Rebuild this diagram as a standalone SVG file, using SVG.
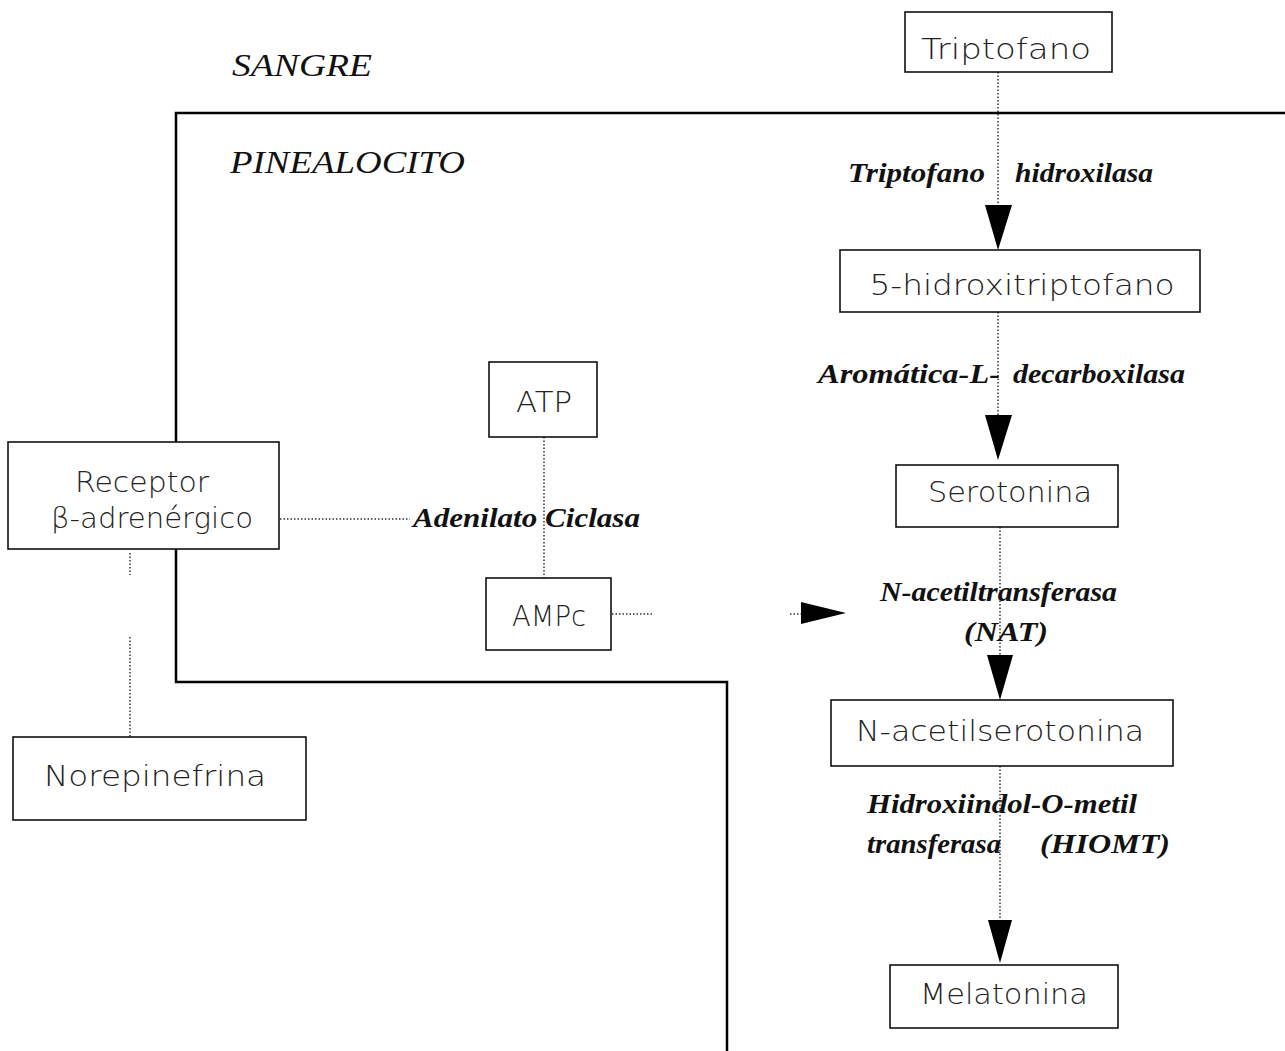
<svg xmlns="http://www.w3.org/2000/svg" width="1285" height="1051" viewBox="0 0 1285 1051">
<style>
.box{fill:#fff;stroke:#111;stroke-width:1.6}
.nt{font-family:"DejaVu Sans","Liberation Sans",sans-serif;font-size:28px;fill:#222;text-anchor:middle;font-weight:300}
.lb{font-family:"Liberation Serif",serif;font-size:28px;font-style:italic;font-weight:bold;fill:#111}
.rg{font-family:"Liberation Serif",serif;font-size:32px;font-style:italic;fill:#111}
.dot{stroke:#333;stroke-width:1.5;stroke-dasharray:1.5 2;fill:none}
.mem{stroke:#000;stroke-width:2.5;fill:none}
</style>
<rect width="1285" height="1051" fill="#fff"/>
<g id="membrane">
<path class="mem" d="M1285,113 H176 V682 H727 V1051"/>
</g>
<text class="rg" x="232" y="76" textLength="140" lengthAdjust="spacingAndGlyphs">SANGRE</text>
<text class="rg" x="230" y="173" textLength="235" lengthAdjust="spacingAndGlyphs">PINEALOCITO</text>
<g id="connectors">
<line class="dot" x1="998" y1="72" x2="998" y2="206"/>
<path d="M985,205 L1012,205 L998,250 Z" fill="#000"/>
<line class="dot" x1="998" y1="312" x2="998" y2="416"/>
<path d="M985,415 L1012,415 L998,460 Z" fill="#000"/>
<line class="dot" x1="1000" y1="527" x2="1000" y2="656"/>
<path d="M987,655 L1013,655 L1000,700 Z" fill="#000"/>
<line class="dot" x1="1000" y1="766" x2="1000" y2="921"/>
<path d="M988,920 L1012,920 L1000,963 Z" fill="#000"/>
<line class="dot" x1="544" y1="437" x2="544" y2="578"/>
<line class="dot" x1="280" y1="519" x2="410" y2="519"/>
<line class="dot" x1="612" y1="614" x2="652" y2="614"/>
<line class="dot" x1="790" y1="614" x2="802" y2="614"/>
<path d="M801,602 L846,613 L801,624 Z" fill="#000"/>
<line class="dot" x1="130" y1="553" x2="130" y2="575"/>
<line class="dot" x1="130" y1="637" x2="130" y2="737"/>
</g>
<g id="triptofano">
<rect class="box" x="905" y="12" width="207" height="60"/>
<text class="nt" x="1006" y="59" textLength="170" lengthAdjust="spacingAndGlyphs">Triptofano</text>
</g>
<g id="hidroxitriptofano">
<rect class="box" x="840" y="250" width="360" height="62"/>
<text class="nt" x="1022" y="295" textLength="305" lengthAdjust="spacingAndGlyphs">5-hidroxitriptofano</text>
</g>
<g id="serotonina">
<rect class="box" x="896" y="465" width="222" height="62"/>
<text class="nt" x="1010" y="502" textLength="164" lengthAdjust="spacingAndGlyphs">Serotonina</text>
</g>
<g id="nacetilserotonina">
<rect class="box" x="831" y="700" width="342" height="66"/>
<text class="nt" x="1000" y="741" textLength="288" lengthAdjust="spacingAndGlyphs">N-acetilserotonina</text>
</g>
<g id="melatonina">
<rect class="box" x="890" y="965" width="228" height="63"/>
<text class="nt" x="1004" y="1004" textLength="168" lengthAdjust="spacingAndGlyphs">Melatonina</text>
</g>
<g id="atp">
<rect class="box" x="489" y="362" width="108" height="75"/>
<text class="nt" x="544" y="412" textLength="56" lengthAdjust="spacingAndGlyphs">ATP</text>
</g>
<g id="ampc">
<rect class="box" x="486" y="578" width="125" height="72"/>
<text class="nt" x="549" y="626" textLength="74" lengthAdjust="spacingAndGlyphs">AMPc</text>
</g>
<g id="receptor">
<rect class="box" x="8" y="442" width="271" height="107"/>
<text class="nt" x="142" y="492" textLength="134" lengthAdjust="spacingAndGlyphs">Receptor</text>
<text class="nt" x="152" y="528" textLength="202" lengthAdjust="spacingAndGlyphs">β-adrenérgico</text>
</g>
<g id="norepinefrina">
<rect class="box" x="13" y="737" width="293" height="83"/>
<text class="nt" x="155" y="786" textLength="222" lengthAdjust="spacingAndGlyphs">Norepinefrina</text>
</g>
<g id="labels">
<text class="lb" x="848" y="182" textLength="137" lengthAdjust="spacingAndGlyphs">Triptofano</text>
<text class="lb" x="1015" y="182" textLength="138" lengthAdjust="spacingAndGlyphs">hidroxilasa</text>
<text class="lb" x="818" y="383" textLength="182" lengthAdjust="spacingAndGlyphs">Aromática-L-</text>
<text class="lb" x="1013" y="383" textLength="172" lengthAdjust="spacingAndGlyphs">decarboxilasa</text>
<text class="lb" x="413" y="527" textLength="227" lengthAdjust="spacingAndGlyphs">Adenilato Ciclasa</text>
<text class="lb" x="880" y="601" textLength="237" lengthAdjust="spacingAndGlyphs">N-acetiltransferasa</text>
<text class="lb" x="964" y="641" textLength="84" lengthAdjust="spacingAndGlyphs">(NAT)</text>
<text class="lb" x="867" y="813" textLength="270" lengthAdjust="spacingAndGlyphs">Hidroxiindol-O-metil</text>
<text class="lb" x="867" y="853" textLength="134" lengthAdjust="spacingAndGlyphs">transferasa</text>
<text class="lb" x="1040" y="853" textLength="130" lengthAdjust="spacingAndGlyphs">(HIOMT)</text>
</g>
</svg>
